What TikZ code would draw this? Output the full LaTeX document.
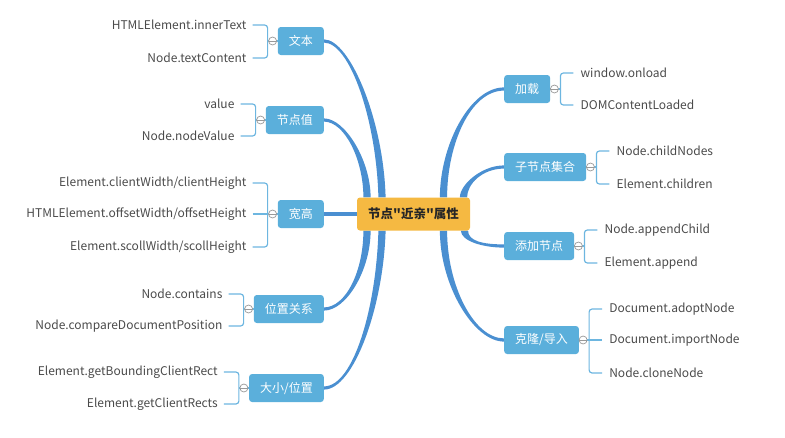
\documentclass[tikz,border=0pt]{standalone}
\usepackage{fontspec}
\setmainfont{Noto Sans CJK SC}[Ligatures=TeXOff]
\usepackage{tikz}
\usetikzlibrary{
        backgrounds,
        calc,
        positioning
    }
\definecolor{rootorange}{HTML}{F5B942}
\definecolor{topicblue}{HTML}{5BAFDB}
\definecolor{branchblue}{HTML}{4A8FD1}
\definecolor{bracketblue}{HTML}{6DB6E0}
\definecolor{leafgray}{HTML}{4A4A4A}
\tikzset{root/.style={fill=rootorange,rounded corners=3pt,minimum width=113pt,minimum height=33pt,
        text=black!85,font=\fontsize{12.5}{14}\selectfont\bfseries}}
\tikzset{topic/.style={fill=topicblue,text=white,rounded corners=3pt,minimum height=28pt,
        inner xsep=11pt,font=\fontsize{12}{14}\selectfont}}
\tikzset{leaf/.style={text=leafgray,inner sep=0pt,font=\fontsize{12}{14}\selectfont}}
\tikzset{branch/.style={draw=branchblue,line width=4pt}}
\tikzset{brace/.style={draw=bracketblue,line width=1.2pt,rounded corners=3pt}}
\tikzset{fold/.style={circle,draw=gray!80,fill=white,line width=0.7pt,minimum size=8pt,inner sep=0pt,
        path picture={\draw[gray!80,line width=0.7pt] (path picture bounding box.west) -- (path picture bounding box.east);}}}
% tapered main branch: start, start control, end control, end, start side, end side
\newcommand{\taperbranch}[6]{%
    \fill[branchblue] ($(#1)+(0,#5*1.6)$) .. controls ($(#1)+(#2)+(0,#5*1.6)$) and ($(#4)+(#3)+(#6*3.6,0)$) .. ($(#4)+(#6*3.6,0)$)
        -- ($(#4)-(#6*3.6,0)$) .. controls ($(#4)+(#3)-(#6*3.6,0)$) and ($(#1)+(#2)-(0,#5*1.6)$) .. ($(#1)-(0,#5*1.6)$) -- cycle;}

\begin{document}
\begin{tikzpicture}[x=1pt,y=1pt]
                \useasboundingbox (0,0) rectangle (785,-437);
                \node[root] (root) at (413.5,-214) {节点"近亲"属性};
                % left side
                \node[topic,anchor=east] (wenben) at (324,-41) {文本};
                \node[topic,anchor=east] (jiedianzhi) at (324,-120) {节点值};
                \node[topic,anchor=east] (kuangao) at (324,-214) {宽高};
                \node[topic,anchor=east] (weizhi) at (324,-309) {位置关系};
                \node[topic,anchor=east] (daxiao) at (324,-388) {大小/位置};
                \node[leaf] (wenben1) [left=31pt of wenben,yshift=16pt] {HTMLElement.innerText};
                \node[leaf] (wenben2) [left=31pt of wenben,yshift=-17pt] {Node.textContent};
                \node[leaf] (jiedianzhi1) [left=31pt of jiedianzhi,yshift=16pt] {value};
                \node[leaf] (jiedianzhi2) [left=31pt of jiedianzhi,yshift=-16pt] {Node.nodeValue};
                \node[leaf] (kuangao1) [left=31pt of kuangao,yshift=31pt] {Element.clientWidth/clientHeight};
                \node[leaf] (kuangao2) [left=31pt of kuangao] {HTMLElement.offsetWidth/offsetHeight};
                \node[leaf] (kuangao3) [left=31pt of kuangao,yshift=-33pt] {Element.scollWidth/scollHeight};
                \node[leaf] (weizhi1) [left=31pt of weizhi,yshift=15pt] {Node.contains};
                \node[leaf] (weizhi2) [left=31pt of weizhi,yshift=-17pt] {Node.compareDocumentPosition};
                \node[leaf] (daxiao1) [left=31pt of daxiao,yshift=16pt] {Element.getBoundingClientRect};
                \node[leaf] (daxiao2) [left=31pt of daxiao,yshift=-16pt] {Element.getClientRects};
                % right side
                \node[topic,anchor=west] (jiazai) at (504,-89) {加载};
                \node[topic,anchor=west] (zijiedian) at (504,-167) {子节点集合};
                \node[topic,anchor=west] (tianjia) at (504,-246) {添加节点};
                \node[topic,anchor=west] (kelong) at (504,-340) {克隆/导入};
                \node[leaf] (jiazai1) [right=30pt of jiazai,yshift=16pt] {window.onload};
                \node[leaf] (jiazai2) [right=30pt of jiazai,yshift=-16pt] {DOMContentLoaded};
                \node[leaf] (zijiedian1) [right=30pt of zijiedian,yshift=16pt] {Node.childNodes};
                \node[leaf] (zijiedian2) [right=30pt of zijiedian,yshift=-17pt] {Element.children};
                \node[leaf] (tianjia1) [right=30pt of tianjia,yshift=16pt] {Node.appendChild};
                \node[leaf] (tianjia2) [right=30pt of tianjia,yshift=-17pt] {Element.append};
                \node[leaf] (kelong1) [right=30pt of kelong,yshift=31pt] {Document.adoptNode};
                \node[leaf] (kelong2) [right=30pt of kelong] {Document.importNode};
                \node[leaf] (kelong3) [right=30pt of kelong,yshift=-33pt] {Node.cloneNode};
                % brackets
                \draw[brace] ([xshift=6pt]wenben1.east) -| ([xshift=-10pt]wenben.west) |- ([xshift=6pt]wenben2.east);
                \draw[brace] ([xshift=6pt]jiedianzhi1.east) -| ([xshift=-10pt]jiedianzhi.west) |- ([xshift=6pt]jiedianzhi2.east);
                \draw[brace] ([xshift=6pt]kuangao1.east) -| ([xshift=-10pt]kuangao.west) |- ([xshift=6pt]kuangao3.east);
                \draw[brace] ([xshift=6pt]weizhi1.east) -| ([xshift=-10pt]weizhi.west) |- ([xshift=6pt]weizhi2.east);
                \draw[brace] ([xshift=6pt]daxiao1.east) -| ([xshift=-10pt]daxiao.west) |- ([xshift=6pt]daxiao2.east);
                \draw[brace] ([xshift=-7pt]jiazai1.west) -| ([xshift=10pt]jiazai.east) |- ([xshift=-7pt]jiazai2.west);
                \draw[brace] ([xshift=-7pt]zijiedian1.west) -| ([xshift=10pt]zijiedian.east) |- ([xshift=-7pt]zijiedian2.west);
                \draw[brace] ([xshift=-7pt]tianjia1.west) -| ([xshift=10pt]tianjia.east) |- ([xshift=-7pt]tianjia2.west);
                \draw[brace] ([xshift=-7pt]kelong1.west) -| ([xshift=10pt]kelong.east) |- ([xshift=-7pt]kelong3.west);
                \draw[brace] ([xshift=6pt]kuangao2.east) -- (kuangao.west);
                \draw[brace] ([xshift=-7pt]kelong2.west) -- (kelong.east);
                \foreach \t in {wenben,jiedianzhi,weizhi,daxiao}
                    \draw[brace] ([xshift=-10pt]\t.west) -- (\t.west);
                \foreach \t in {jiazai,zijiedian,tianjia}
                    \draw[brace] ([xshift=10pt]\t.east) -- (\t.east);
                \foreach \t in {wenben,jiedianzhi,kuangao,weizhi,daxiao}
                    \node[fold] (\t-fold) at ([xshift=-5pt]\t.west) {};
                \foreach \t in {jiazai,zijiedian,tianjia,kelong}
                    \node[fold] (\t-fold) at ([xshift=4pt]\t.east) {};
                % main branches
                \begin{pgfonlayer}{background}
                \taperbranch{wenben.east}{26,0}{-2,77}{[xshift=-31.5pt]root.north}{1}{1}
                \taperbranch{jiedianzhi.east}{21,0}{0,37}{[xshift=-46.5pt]root.north}{1}{1}
                \draw[branch] (kuangao) -- (root);
                \taperbranch{weizhi.east}{22,0}{0,-40}{[xshift=-46.5pt]root.south}{-1}{1}
                \taperbranch{daxiao.east}{30,0}{-2,-75}{[xshift=-31.5pt]root.south}{-1}{1}
                \taperbranch{jiazai.west}{-34,0}{0,52}{[xshift=30pt]root.north}{1}{-1}
                \taperbranch{zijiedian.west}{-22,0}{0,13}{[xshift=50pt]root.north}{1}{-1}
                \taperbranch{tianjia.west}{-22,0}{0,-10}{[xshift=51pt]root.south}{-1}{-1}
                \taperbranch{kelong.west}{-30,0}{0,-55}{[xshift=30pt]root.south}{-1}{-1}
                \end{pgfonlayer}
            \end{tikzpicture}
\end{document}
